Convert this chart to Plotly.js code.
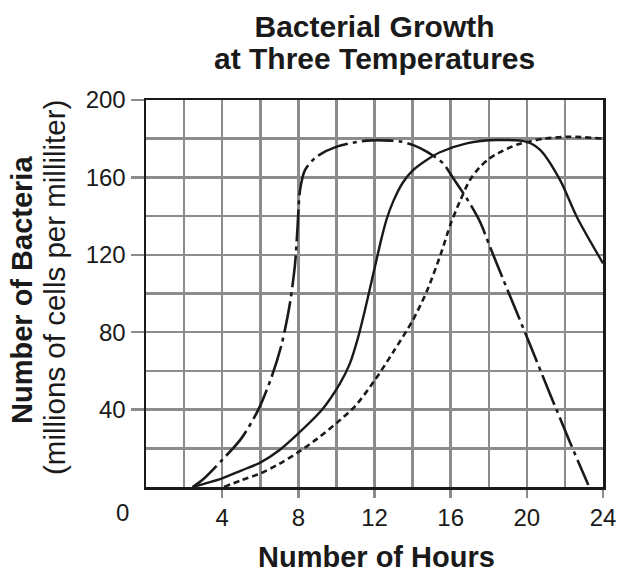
<!DOCTYPE html>
<html>
<head>
<meta charset="utf-8">
<script src="https://cdn.plot.ly/plotly-3.0.1.min.js"></script>
<style>html,body{margin:0;padding:0;background:#fff}#chart{width:619px;height:573px}</style>
</head>
<body>
<div id="chart"></div>
<script>
// Curve A (dash-dot)
const hoursA = [2.45, 3, 4, 5, 5.9, 6.6, 7.13, 7.56, 7.83, 7.95, 8.09, 8.35, 8.96, 10.02, 11.59, 12.82, 13.4, 14.04, 14.74, 15.6, 16.14, 16.84, 17.54, 18.07, 18.77, 20.17, 21.2, 22.27, 23.23];
const bactA  = [0, 4, 14, 25, 40, 57, 74, 95, 115.6, 132.8, 153.5, 163.8, 170.7, 175.9, 179, 179, 178.5, 176.7, 173.3, 167.3, 159.5, 149.2, 137.1, 124, 107, 73.5, 48.5, 23, 1];
// Curve B (solid)
const hoursB = [2.45, 3, 4, 5, 6, 7, 8, 9.23, 10.19, 10.71, 11.15, 11.5, 11.85, 12.12, 12.38, 12.64, 13, 13.5, 14, 14.74, 15.44, 16.84, 18.42, 20, 20.7, 21.74, 22.62, 24];
const bactB  = [0, 1.5, 4.5, 8.5, 12.6, 19, 27.7, 39.8, 53.6, 63.9, 77.7, 91.5, 106.5, 118, 129, 138.5, 148, 157.5, 163.5, 169, 173, 177.6, 179.3, 178.4, 174.2, 158.7, 139.7, 115.6];
// Curve C (dotted)
const hoursC = [4.1, 5, 6, 7, 8, 9, 10, 11, 12, 13, 14, 14.74, 15.5, 16, 16.5, 17, 17.5, 18, 18.5, 19.5, 20.9, 22.3, 24];
const bactC  = [0, 3.5, 7, 12, 18, 25, 33, 42, 55, 70, 86, 101, 121, 136, 148, 158.5, 165, 169.5, 172.5, 177, 180, 181, 180];

const xTickVals = [4, 8, 12, 16, 20, 24];
const xMinorVals = [2, 6, 10, 14, 18, 22];
const yTickVals = [40, 80, 120, 160, 200];
const yMinorVals = [20, 60, 100, 140, 180];

const FONT = 'Liberation Sans, Arial, Helvetica, sans-serif';
const GRID = '#8c8c8c';
const INK = '#1a1a1a';

const lineCommon = {type: 'scatter', mode: 'lines', hoverinfo: 'skip', showlegend: false};
const data = [
  Object.assign({}, lineCommon, {x: hoursA, y: bactA, line: {color: INK, width: 2.6, dash: '32px,5px,4px,5px', shape: 'spline', smoothing: 0.8}}),
  Object.assign({}, lineCommon, {x: hoursB, y: bactB, line: {color: INK, width: 2.4, shape: 'spline', smoothing: 0.8}}),
  Object.assign({}, lineCommon, {x: hoursC, y: bactC, line: {color: INK, width: 2.6, dash: '6px,4px', shape: 'spline', smoothing: 0.8}})
];

const px2xp = p => (p - 146) / 457;
const px2yp = p => (487 - p) / 387;

const layout = {
  width: 619, height: 573,
  margin: {l: 146, r: 16, t: 100, b: 86},
  paper_bgcolor: '#fff', plot_bgcolor: '#fff',
  font: {family: FONT, color: INK},
  title: {
    text: '<b>Bacterial Growth</b>',
    font: {family: FONT, size: 30, color: INK},
    x: 0.5, xanchor: 'center', xref: 'paper',
    y: 1 - 26.5 / 573, yanchor: 'middle', yref: 'container'
  },
  xaxis: {
    range: [0, 24], tickvals: xTickVals, ticks: 'outside', ticklen: 8, tickwidth: 2.5, tickcolor: GRID,
    showgrid: true, gridcolor: GRID, gridwidth: 2.5,
    minor: {tickvals: xMinorVals, showgrid: true, gridcolor: GRID, gridwidth: 2.5, ticks: ''},
    showline: true, linecolor: INK, linewidth: 2.5, mirror: true, zeroline: false,
    tickfont: {family: FONT, size: 24, color: INK},
    fixedrange: true
  },
  yaxis: {
    range: [0, 200], tickvals: yTickVals, ticks: 'outside', ticklen: 13, tickwidth: 2.5, tickcolor: GRID,
    showgrid: true, gridcolor: GRID, gridwidth: 2.5,
    minor: {tickvals: yMinorVals, showgrid: true, gridcolor: GRID, gridwidth: 2.5, ticks: ''},
    showline: true, linecolor: INK, linewidth: 2.5, mirror: true, zeroline: false,
    tickfont: {family: FONT, size: 24, color: INK},
    fixedrange: true
  },
  annotations: [
    {text: '<b>at Three Temperatures</b>', xref: 'paper', yref: 'paper', x: 0.5, y: px2yp(58),
     xanchor: 'center', yanchor: 'middle', showarrow: false, font: {family: FONT, size: 30, color: INK}},
    {text: '<b>Number of Hours</b>', xref: 'paper', yref: 'paper', x: px2xp(376), y: px2yp(556.5),
     xanchor: 'center', yanchor: 'middle', showarrow: false, font: {family: FONT, size: 29, color: INK}},
    {text: '<b>Number of Bacteria</b>', xref: 'paper', yref: 'paper', x: px2xp(22), y: px2yp(290),
     xanchor: 'center', yanchor: 'middle', textangle: -90, showarrow: false, font: {family: FONT, size: 29, color: INK}},
    {text: '(millions of cells per milliliter)', xref: 'paper', yref: 'paper', x: px2xp(54), y: px2yp(288),
     xanchor: 'center', yanchor: 'middle', textangle: -90, showarrow: false, font: {family: FONT, size: 29.5, color: INK}},
    {text: '0', xref: 'paper', yref: 'paper', x: px2xp(122), y: px2yp(512), xanchor: 'center', yanchor: 'middle',
     showarrow: false, font: {family: FONT, size: 24, color: INK}}
  ]
};

Plotly.newPlot('chart', data, layout, {displayModeBar: false, staticPlot: true});
</script>
</body>
</html>
